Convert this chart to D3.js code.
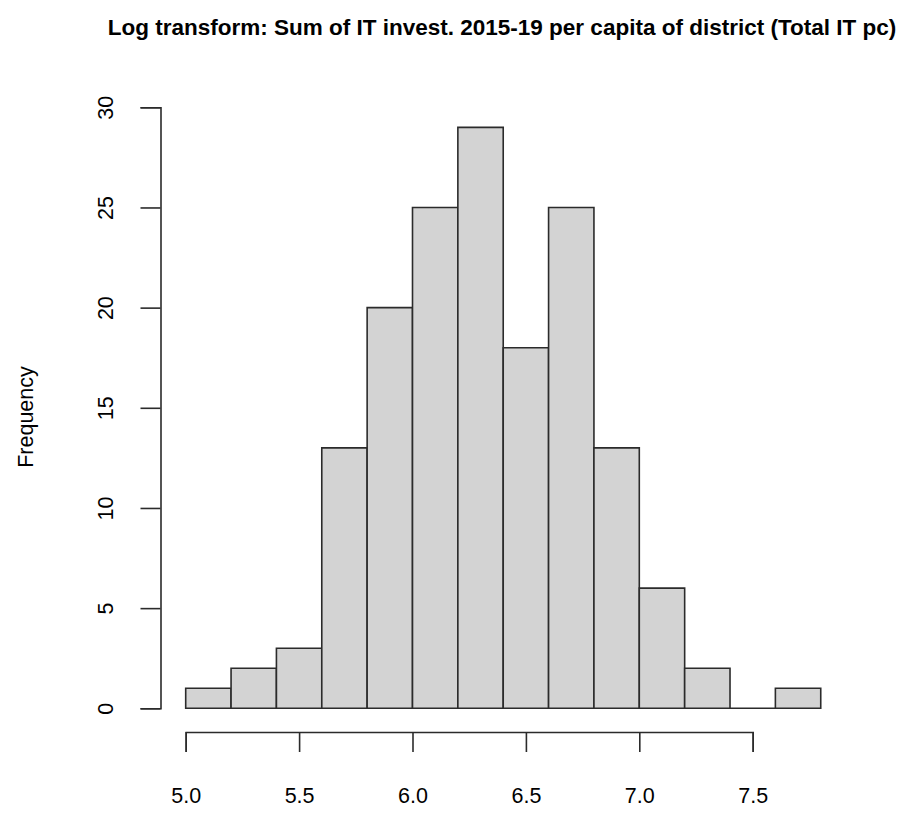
<!DOCTYPE html>
<html>
<head>
<meta charset="utf-8">
<script src="https://cdn.jsdelivr.net/npm/d3@7"></script>
<style>
  body { margin: 0; background: #fff; }
  svg text { font-family: "Liberation Sans", Arial, sans-serif; fill: #000; }
</style>
</head>
<body>
<div id="chart"></div>
<script>
// histogram breaks (bin edges) and counts per bin
const breaks = [5.0, 5.2, 5.4, 5.6, 5.8, 6.0, 6.2, 6.4, 6.6, 6.8, 7.0, 7.2, 7.4, 7.6, 7.8];
const counts = [1, 2, 3, 13, 20, 25, 29, 18, 25, 13, 6, 2, 0, 1];
const xTicks = [5.0, 5.5, 6.0, 6.5, 7.0, 7.5];
const yTicks = [0, 5, 10, 15, 20, 25, 30];
const titleText = "Log transform: Sum of IT invest. 2015-19 per capita of district (Total IT pc)";
const yLabel = "Frequency";

const width = 906, height = 813;

const svg = d3.select("#chart")
    .append("svg")
    .attr("width", width)
    .attr("height", height);

const x = d3.scaleLinear()
    .domain([5.0, 7.5])
    .range([185.7, 752.7]);

const y = d3.scaleLinear()
    .domain([0, 30])
    .range([708.3, 107.3]);

const bins = counts.map((c, i) => ({x0: breaks[i], x1: breaks[i + 1], n: c}));

// bars as paths so the empty bin still shows its base line
svg.selectAll(".bar")
    .data(bins)
    .enter()
    .append("path")
    .attr("class", "bar")
    .attr("d", d => "M" + x(d.x0) + "," + y(0) + "V" + y(d.n) + "H" + x(d.x1) + "V" + y(0) + "Z")
    .attr("fill", "#d3d3d3")
    .attr("stroke", "#2b2b2b")
    .attr("stroke-width", 1.6);

// axes
const xAxis = d3.axisBottom(x).tickValues(xTicks).tickFormat(d3.format(".1f")).tickSizeOuter(0).tickSize(20).tickPadding(0);
const yAxis = d3.axisLeft(y).tickValues(yTicks).tickSizeOuter(0).tickSize(20);

const gx = svg.append("g")
    .attr("class", "x-axis")
    .attr("transform", "translate(0,732)")
    .call(xAxis);

const gy = svg.append("g")
    .attr("class", "y-axis")
    .attr("transform", "translate(160.5,0)")
    .call(yAxis);

[gx, gy].forEach(g => {
    g.select(".domain").attr("stroke", "#2b2b2b").attr("stroke-width", 1.6);
    g.selectAll(".tick line").attr("stroke", "#2b2b2b").attr("stroke-width", 1.6);
    g.selectAll(".tick text")
        .attr("fill", "#000")
        .style("font-family", "'Liberation Sans', Arial, sans-serif")
        .style("font-size", "21.5px");
});

gx.selectAll(".tick text")
    .attr("y", 71)
    .attr("dy", null);

gy.selectAll(".tick text")
    .attr("transform", "rotate(-90)")
    .attr("x", 0)
    .attr("y", -47.5)
    .attr("dy", null)
    .attr("text-anchor", "middle");

// title
svg.append("text")
    .attr("x", 502)
    .attr("y", 35)
    .attr("text-anchor", "middle")
    .style("font-size", "22.5px")
    .style("font-weight", "700")
    .text(titleText);

// y label
svg.append("text")
    .attr("transform", "translate(33,417) rotate(-90)")
    .attr("text-anchor", "middle")
    .style("font-size", "21.5px")
    .text(yLabel);
</script>
</body>
</html>
